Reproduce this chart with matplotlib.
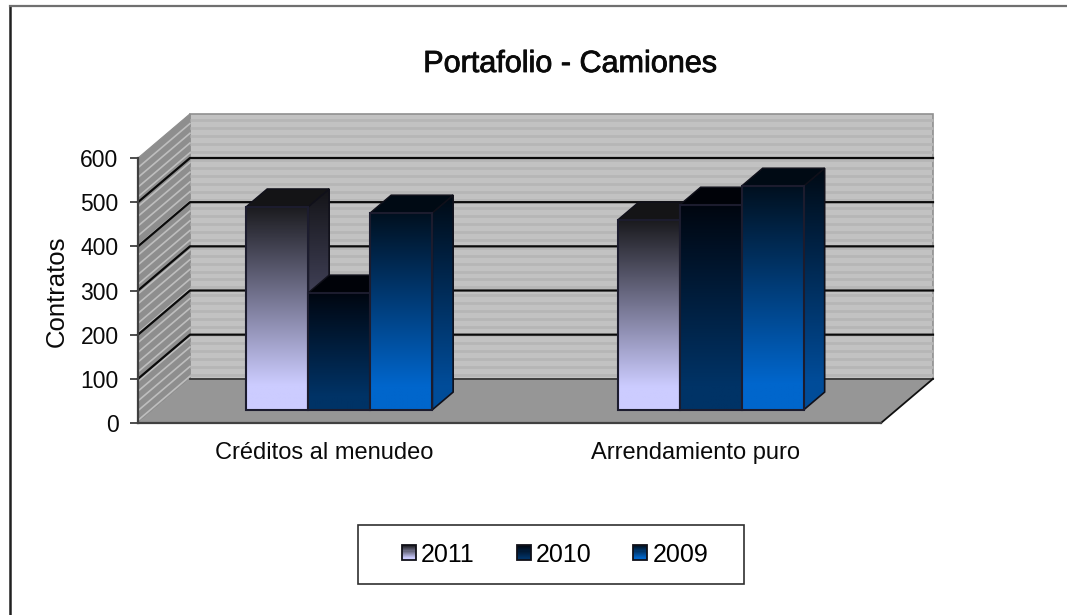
import matplotlib
matplotlib.use('Agg')
import matplotlib.patheffects as pe
import matplotlib.pyplot as plt
import numpy as np
from matplotlib.colors import LinearSegmentedColormap
from matplotlib.legend_handler import HandlerBase
from matplotlib.lines import Line2D
from matplotlib.patches import Polygon, Rectangle

plt.rcParams['font.family'] = ['Liberation Sans', 'DejaVu Sans']

categories = ['Créditos al menudeo', 'Arrendamiento puro']
years = ['2011', '2010', '2009']
values_2011 = [460, 430]
values_2010 = [265, 464]
values_2009 = [446, 507]
y_ticks = [0, 100, 200, 300, 400, 500, 600]

# gradient colours, top of bar -> bottom of bar
front_colors = [['#1a1a1e', '#ccccff'],
                ['#000610', '#003366'],
                ['#00101f', '#0066cc']]
side_colors = [['#141418', '#66668c'],
               ['#000308', '#001f3d'],
               ['#000a14', '#004c99']]
top_colors = ['#141416', '#000208', '#000a14']

W, H = 1067, 615
# front plane of the chart in pixels
LEFT, RIGHT, BOTTOM, TOP = 138, 881, 423, 158

# oblique depth, in data units, for the full floor
DEPTH_X = 52 / 371.5
DEPTH_Y = 100
BAR_WIDTH = 62 / 371.5
BAR_NEAR = 0.3
BAR_FAR = 0.7


def project(x, v, d):
    return x + d * DEPTH_X, v + d * DEPTH_Y


def make_cmap(colors):
    return LinearSegmentedColormap.from_list('g', [(0, colors[0]), (0.88, colors[1]), (1, colors[1])])


def gradient_face(ax, corners, colors, x0, x1, y0, y1, z):
    grad = np.linspace(0, 1, 256).reshape(-1, 1)
    img = ax.imshow(grad, cmap=make_cmap(colors), extent=(x0, x1, y0, y1), origin='upper',
                    aspect='auto', zorder=z, interpolation='bilinear')
    clip = Polygon(corners, closed=True, transform=ax.transData)
    img.set_clip_path(clip)
    img.set_clip_on(True)


def draw_bar(ax, x, value, idx, z):
    xr = x + BAR_WIDTH
    base = project(x, 0, BAR_NEAR)[1]
    top = project(x, value, BAR_NEAR)[1]
    sx = project(x, 0, BAR_NEAR)[0]
    ex = project(xr, 0, BAR_NEAR)[0]
    fx = project(xr, 0, BAR_FAR)[0]
    fbase = project(x, 0, BAR_FAR)[1]
    ftop = project(x, value, BAR_FAR)[1]
    sfx = project(x, 0, BAR_FAR)[0]

    front = [(sx, base), (ex, base), (ex, top), (sx, top)]
    side = [(ex, base), (fx, fbase), (fx, ftop), (ex, top)]
    roof = [(sx, top), (ex, top), (fx, ftop), (sfx, ftop)]

    gradient_face(ax, side, side_colors[idx], ex, fx, base, ftop, z)
    ax.add_patch(Polygon(side, closed=True, fill=False, edgecolor='#10101a', lw=1.2, zorder=z + 0.1))
    ax.add_patch(Polygon(roof, closed=True, facecolor=top_colors[idx], edgecolor='#10101a', lw=1.0, zorder=z + 0.2))
    gradient_face(ax, front, front_colors[idx], sx, ex, base, top, z + 0.3)
    ax.add_patch(Polygon(front, closed=True, fill=False, edgecolor='#1c1c2e', lw=1.5, zorder=z + 0.4))


class GradientHandler(HandlerBase):
    def create_artists(self, legend, orig_handle, xdescent, ydescent, width, height, fontsize, trans):
        cmap = make_cmap(orig_handle.colors)
        n = 14
        artists = []
        for i in range(n):
            r = Rectangle((-xdescent, -ydescent + height * (n - 1 - i) / n), width, height / n,
                          facecolor=cmap(i / (n - 1)), edgecolor='none', transform=trans)
            artists.append(r)
        artists.append(Rectangle((-xdescent, -ydescent), width, height, fill=False,
                                 edgecolor='#101018', lw=1.3, transform=trans))
        return artists


fig = plt.figure(figsize=(W / 100, H / 100), dpi=100, facecolor='white')
ax = fig.add_axes([LEFT / W, 1 - BOTTOM / H, (RIGHT - LEFT) / W, (BOTTOM - TOP) / H])
ax.patch.set_visible(False)

# back wall
wall = [project(0, 0, 1), project(2, 0, 1), project(2, 600, 1), project(0, 600, 1)]
ax.add_patch(Polygon(wall, closed=True, facecolor='#c2c2c2', edgecolor='#909090', lw=1.2, zorder=1, clip_on=False))
for v in np.arange(9, 600, 18):
    xa, ya = project(0, v, 1)
    xb, yb = project(2, v, 1)
    ax.plot([xa, xb], [ya, yb], color='#b6b6b6', lw=2.0, zorder=1.1, clip_on=False, solid_capstyle='butt')

# left wall
side_wall = Polygon([project(0, 0, 0), project(0, 0, 1), project(0, 600, 1), project(0, 600, 0)],
                    closed=True, facecolor='#8e8e8e', edgecolor='#8e8e8e', lw=0.8, zorder=1, clip_on=False)
ax.add_patch(side_wall)
for v in np.arange(6, 600, 22):
    xa, ya = project(0, v, 0)
    xb, yb = project(0, v, 1)
    ax.plot([xa, xb], [ya, yb], color='#bebebe', lw=1.2, zorder=1.1, clip_on=False)

# floor
floor = [project(0, 0, 0), project(2, 0, 0), project(2, 0, 1), project(0, 0, 1)]
ax.add_patch(Polygon(floor, closed=True, facecolor='#969696', edgecolor='none', zorder=1.2, clip_on=False))
xa, ya = project(0, 0, 1)
xb, yb = project(2, 0, 1)
ax.plot([xa, xb], [ya, yb], color='#303030', lw=1.2, zorder=1.3, clip_on=False)
xa, ya = project(2, 0, 0)
ax.plot([xa, xb], [ya, yb], color='#101010', lw=1.3, zorder=1.3, clip_on=False)

# gridlines run along the left wall then the back wall
for v in y_ticks[1:-1]:
    xa, ya = project(0, v, 0)
    xb, yb = project(0, v, 1)
    xc, yc = project(2, v, 1)
    ax.plot([xa, xb, xc], [ya, yb, yc], color='#0a0a0a', lw=1.6, zorder=1.5, clip_on=False)

series = [values_2011, values_2010, values_2009]
z = 3
for c in range(len(categories)):
    for s in range(len(series)):
        x = c + 0.5 + (s - 1.5) * BAR_WIDTH
        draw_bar(ax, x, series[s][c], s, z)
        z += 1

ax.set_xlim(0, 2)
ax.set_ylim(0, 600)
for name in ['top', 'right']:
    ax.spines[name].set_visible(False)
for name in ['left', 'bottom']:
    ax.spines[name].set_color('#404040')
    ax.spines[name].set_linewidth(1.6)
    ax.spines[name].set_zorder(2)
ax.set_yticks(y_ticks)
ax.set_xticks([0.5, 1.5])
ax.set_xticklabels(categories)
ax.tick_params(axis='y', length=6, width=1.2, color='#303030', labelsize=16.5, pad=8, labelcolor='#0a0a0a')
ax.tick_params(axis='x', length=0, labelsize=17, pad=14, labelcolor='#0a0a0a')
ax.set_ylabel('Contratos', fontsize=18.5, color='#0a0a0a')
ax.yaxis.set_label_coords((69 - LEFT) / (RIGHT - LEFT), (BOTTOM - 291) / (BOTTOM - TOP))

title = fig.text(569.5 / W, 1 - 64 / H, 'Portafolio - Camiones', fontsize=22, ha='center', va='center', color='#0a0a0a')
title.set_path_effects([pe.withStroke(linewidth=0.6, foreground='#0a0a0a')])

# chart border: only left and top edges are in the frame
fig.add_artist(Line2D([9.5 / W, 9.5 / W], [0, 1 - 5.5 / H], color='#202020', lw=1.8))
fig.add_artist(Line2D([9.5 / W, 1], [1 - 5.5 / H, 1 - 5.5 / H], color='#707070', lw=1.6))

# legend
fig.add_artist(Rectangle((358 / W, 1 - 584 / H), 386 / W, 59 / H, facecolor='white', edgecolor='#303030',
                         lw=1.2, transform=fig.transFigure))
handles = []
for i in range(3):
    h = Rectangle((0, 0), 1, 1)
    h.colors = front_colors[i]
    handles.append(h)
fig.legend(handles, years, handler_map={Rectangle: GradientHandler()}, ncol=3, frameon=False,
           loc='center', bbox_to_anchor=(555 / W, 1 - 554.5 / H), fontsize=18, handlelength=0.56,
           handleheight=0.56, handletextpad=0.2, columnspacing=1.68)

fig.savefig('out.png', dpi=100)
